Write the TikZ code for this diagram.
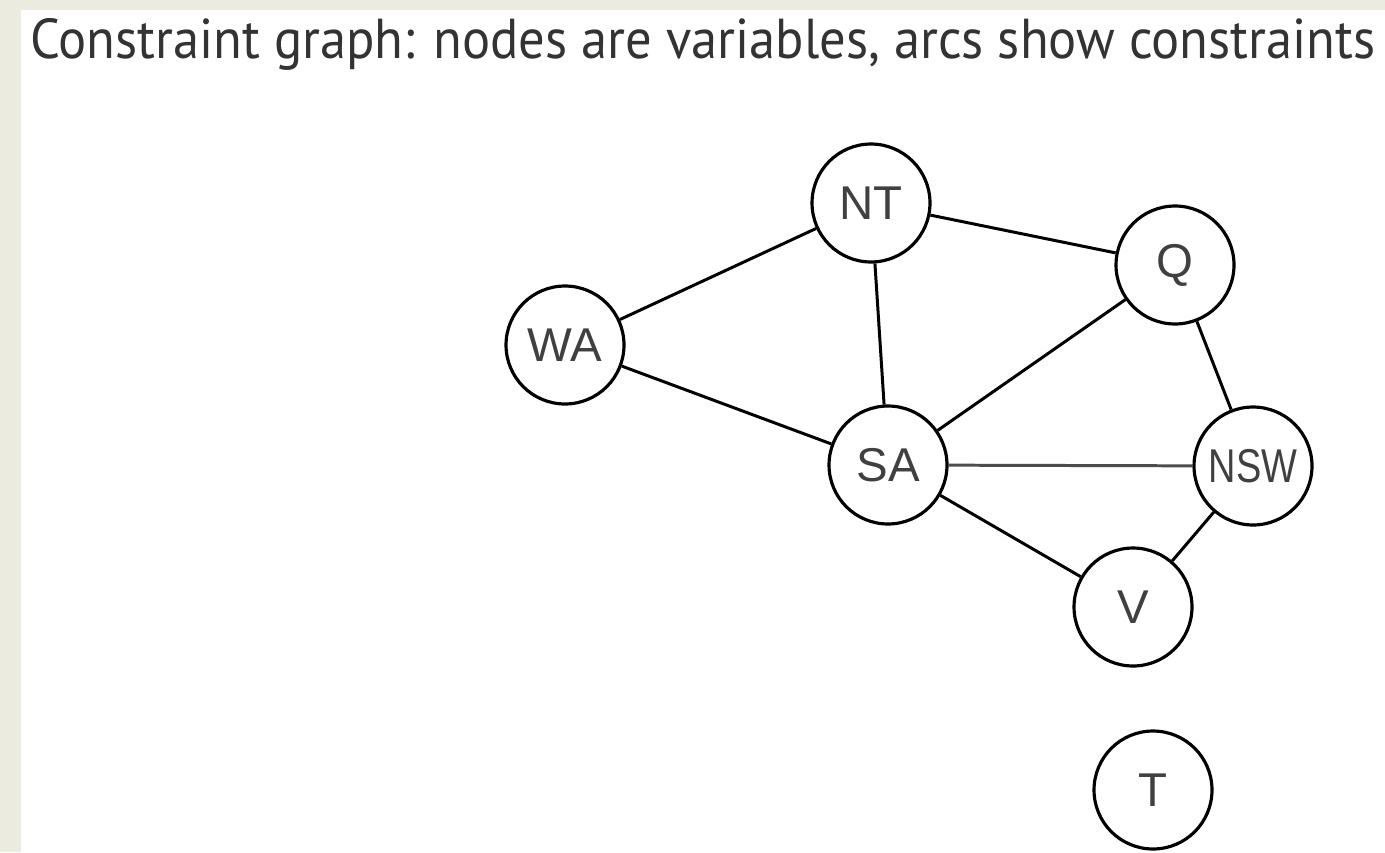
\documentclass[tikz,border=0pt]{standalone}
\usepackage{fontspec}
\setmainfont{PT Sans}
\newfontfamily\labelfont{Liberation Sans}
\usepackage{xcolor}
\usepackage{graphicx}
\usetikzlibrary{positioning}
\definecolor{slidebg}{HTML}{ECEBDF}

\begin{document}
\begin{tikzpicture}[
    x=0.02cm, y=-0.02cm,
    var/.style={circle, draw, line width=1.8pt, minimum size=2.36cm, inner sep=0pt, font=\labelfont\fontsize{27}{27}\selectfont, text=black!75},
    arc/.style={line width=1.7pt}
]

% slide background
\fill[slidebg] (0,0) rectangle (1385,852);
\fill[white] (21,10) rectangle (1385,852);
\useasboundingbox (0,0) rectangle (1385,852);

\node[anchor=base west, inner sep=0pt, font=\fontsize{32}{32}\selectfont, text=black!80] (title) at (30,58) {\resizebox{26.9cm}{\height}{Constraint graph: nodes are variables, arcs show constraints}};

\node[var] (nt) at (871, 203) {NT};
\node[var] (wa) at (565, 345) {WA};
\node[var] (sa) at (888, 465) {SA};
\node[var] (q) at (1175, 265) {Q};
\node[var] (nsw) at (1253, 466) {\scalebox{0.8}[1]{NSW}};
\node[var] (v) at (1133, 607) {V};
\node[var] (t) at (1153, 790) {T};

\draw[arc] (wa) -- (nt);
\draw[arc] (wa) -- (sa);
\draw[arc] (nt) -- (sa);
\draw[arc] (nt) -- (q);
\draw[arc] (sa) -- (q);
\draw[arc, black!70] (sa) -- (nsw);
\draw[arc] (sa) -- (v);
\draw[arc] (q) -- (nsw);
\draw[arc] (nsw) -- (v);

\end{tikzpicture}
\end{document}
